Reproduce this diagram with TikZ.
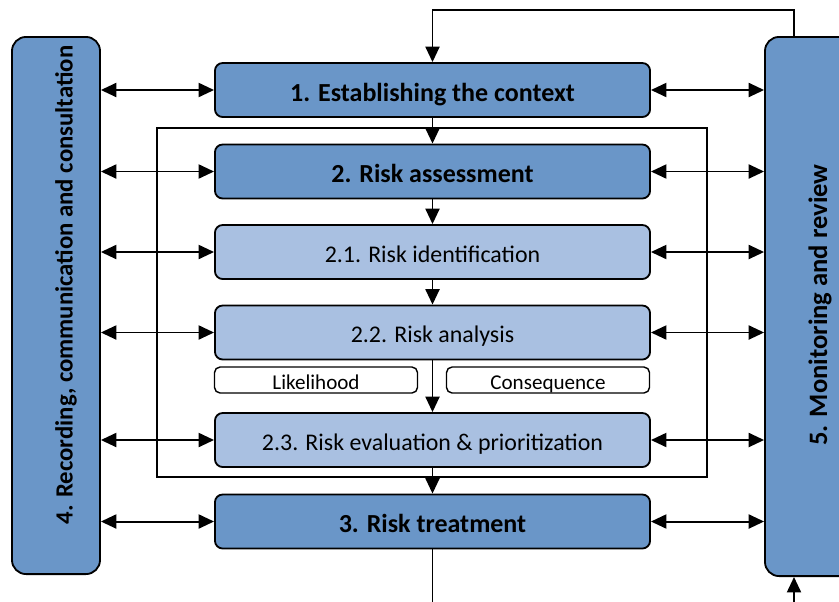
\documentclass[tikz,border=0pt]{standalone}
\usepackage{fontspec}
\setmainfont{Carlito}
\usetikzlibrary{positioning, arrows.meta, calc}
\definecolor{stageblue}{RGB}{106,150,200}
\definecolor{subblue}{RGB}{169,192,225}

\begin{document}
\begin{tikzpicture}[x=0.025cm, y=-0.025cm, >={Triangle[length=11pt, width=10pt]}, line width=1.4pt]
\tikzset{
    stage/.style={draw, rounded corners=5.5pt, minimum width=10.875cm, minimum height=1.35cm, fill=stageblue, font=\fontsize{18.5}{22}\selectfont\bfseries, text height=15.8pt, text depth=0pt, line width=1.3pt},
    substage/.style={stage, fill=subblue, font=\fontsize{17}{20}\selectfont, text height=14.6pt},
    factor/.style={draw, rounded corners=4pt, minimum width=5.075cm, minimum height=0.65cm, fill=white, font=\fontsize{15}{18}\selectfont, text height=13.2pt, text depth=0pt, inner ysep=0pt, line width=1pt},
    sidebar/.style={draw, rounded corners=10pt, fill=stageblue, line width=1.3pt},
    sidetext/.style={rotate=90, font=\fontsize{17.6}{20}\selectfont\bfseries}
}
\useasboundingbox (0,0) rectangle (839,601);
% frame round the assessment
\node[draw, line width=1pt, minimum width=13.75cm, minimum height=8.725cm] (Frame) at (432,302.5) {};
% side bars
\node[sidebar, minimum width=2.2cm, minimum height=13.425cm] (Rec) at (56,305.5) {};
\node[sidetext] (RecText) at (66,285) {4. Recording, communication and consultation};
\node[sidebar, minimum width=2.5cm, minimum height=13.475cm] (Mon) at (815,306.5) {};
\node[sidetext, font=\fontsize{18.9}{22}\selectfont\bfseries] (MonText) at (820,305) {5. Monitoring and review};
% process steps
\node[stage] (Ctx) at (432.5,90) {1. Establishing the context};
\node[stage] (Assess) at (432.5,171.5) {2. Risk assessment};
\node[substage] (Ident) at (432.5,252) {2.1. Risk identification};
\node[substage] (Analysis) at (432.5,332.5) {2.2. Risk analysis};
\node[factor] (Like) at (316,380) {Likelihood};
\node[factor] (Cons) at (548,380) {Consequence};
\node[substage] (Eval) at (432.5,440) {2.3. Risk evaluation \& prioritization};
\node[stage] (Treat) at (432.5,521.5) {3. Risk treatment};
% flow
\draw[->] (Ctx) -- (Assess); \draw[->] (Assess) -- (Ident); \draw[->] (Ident) -- (Analysis);
\draw[->] (Analysis) -- (Eval); \draw[->] (Eval) -- (Treat);
\foreach \s in {Ctx, Assess, Ident, Analysis, Eval, Treat} {
    \draw[<->] (Rec.east |- \s.west) -- (\s.west);
    \draw[<->] (\s.east) -- (\s.east -| Mon.west);
}
% feedback and loose ends
\coordinate (FbTop) at (794,10); \coordinate (OutEnd) at (432.5,612); \coordinate (InStart) at (794,612);
\draw[->] (Mon.north -| FbTop) -- (FbTop) -| (Ctx.north);
\draw[line width=1.1pt] (Treat.south) -- (OutEnd);
\draw[->] (InStart) -- (InStart |- Mon.south);
\end{tikzpicture}
\end{document}
